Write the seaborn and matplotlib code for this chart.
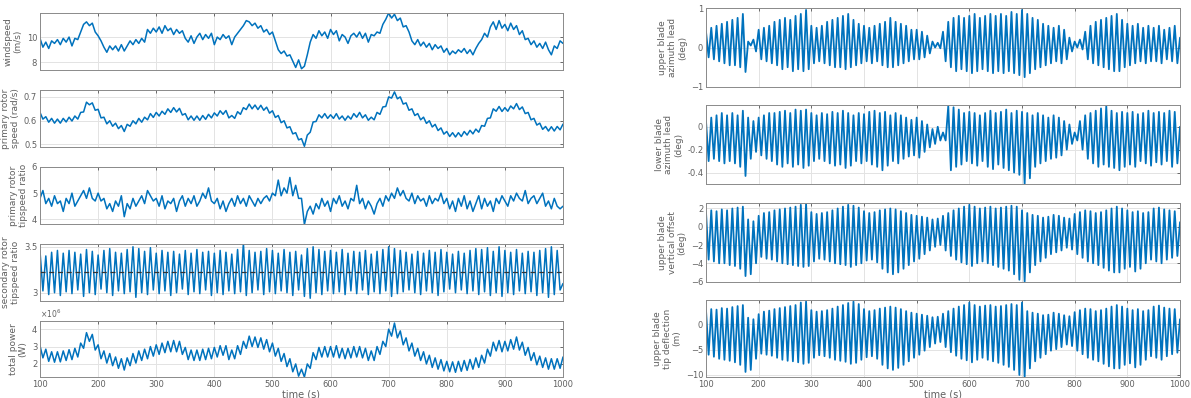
import numpy as np
import pandas as pd
import matplotlib
matplotlib.use("Agg")
import matplotlib.pyplot as plt
import seaborn as sns

# ---------------- data (5 s samples, t = 100 ... 1000 s) ----------------
windspeed = [
    9.9, 9.2, 9.6, 9.1, 9.7, 9.5, 9.8, 9.4, 9.9, 9.6,
    10.0, 9.3, 9.9, 9.8, 10.4, 11.0, 11.2, 10.9, 11.1, 10.4,
    10.1, 9.7, 9.2, 8.8, 9.3, 9.0, 9.3, 8.9, 9.4, 8.9,
    9.3, 9.7, 9.4, 9.8, 9.5, 9.9, 9.6, 10.6, 10.3, 10.7,
    10.4, 10.8, 10.3, 10.9, 10.5, 10.7, 10.2, 10.6, 10.3, 10.5,
    9.9, 9.6, 10.1, 9.5, 10.0, 10.3, 9.8, 10.2, 9.9, 10.3,
    9.4, 10.0, 9.8, 10.2, 9.9, 10.1, 9.4, 10.0, 10.3, 10.6,
    10.9, 11.3, 11.2, 10.9, 11.1, 10.7, 10.9, 10.4, 10.6, 10.2,
    10.4, 9.7, 9.0, 8.7, 8.9, 8.5, 8.6, 8.1, 7.6, 8.2,
    7.5, 7.7, 8.6, 9.6, 10.2, 9.9, 10.5, 10.1, 10.4, 9.9,
    10.6, 10.2, 10.5, 9.7, 10.2, 10.0, 9.5, 10.1, 10.3, 10.0,
    10.4, 9.9, 10.3, 9.6, 10.2, 10.1, 10.4, 10.3, 11.0, 11.4,
    11.9, 11.5, 11.8, 11.3, 11.5, 10.8, 10.9, 10.4, 9.7, 9.4,
    9.8, 9.3, 9.6, 9.2, 9.5, 9.0, 9.4, 9.1, 9.3, 8.8,
    9.1, 8.6, 8.9, 8.7, 9.0, 8.8, 9.1, 8.7, 9.0, 8.6,
    9.1, 9.5, 9.8, 10.3, 10.0, 10.8, 11.2, 10.6, 11.3, 10.7,
    11.0, 10.5, 11.1, 10.6, 10.9, 10.2, 10.5, 9.8, 9.9, 9.4,
    9.7, 9.2, 9.5, 9.1, 9.6, 9.0, 8.6, 9.3, 9.1, 9.7,
    9.5]

rotor_speed = [
    0.634, 0.606, 0.616, 0.593, 0.609, 0.589, 0.606, 0.589, 0.609, 0.594,
    0.614, 0.598, 0.619, 0.606, 0.634, 0.636, 0.677, 0.666, 0.674, 0.643,
    0.647, 0.611, 0.614, 0.586, 0.599, 0.576, 0.589, 0.566, 0.579, 0.554,
    0.584, 0.576, 0.599, 0.586, 0.609, 0.593, 0.614, 0.603, 0.629, 0.613,
    0.634, 0.619, 0.639, 0.626, 0.649, 0.634, 0.654, 0.636, 0.651, 0.623,
    0.629, 0.603, 0.619, 0.601, 0.619, 0.601, 0.621, 0.605, 0.626, 0.611,
    0.632, 0.619, 0.641, 0.626, 0.642, 0.611, 0.621, 0.609, 0.637, 0.626,
    0.654, 0.646, 0.669, 0.649, 0.665, 0.646, 0.664, 0.643, 0.656, 0.631,
    0.641, 0.613, 0.621, 0.591, 0.599, 0.569, 0.574, 0.544, 0.549, 0.519,
    0.524, 0.492, 0.539, 0.551, 0.594, 0.596, 0.624, 0.611, 0.629, 0.609,
    0.624, 0.609, 0.629, 0.606, 0.619, 0.601, 0.619, 0.606, 0.629, 0.614,
    0.634, 0.611, 0.624, 0.601, 0.614, 0.603, 0.634, 0.626, 0.657, 0.659,
    0.699, 0.694, 0.720, 0.691, 0.699, 0.669, 0.674, 0.643, 0.649, 0.621,
    0.629, 0.603, 0.614, 0.588, 0.599, 0.573, 0.584, 0.558, 0.569, 0.543,
    0.554, 0.533, 0.549, 0.531, 0.549, 0.533, 0.554, 0.539, 0.559, 0.544,
    0.564, 0.551, 0.579, 0.576, 0.609, 0.611, 0.649, 0.639, 0.659, 0.638,
    0.654, 0.639, 0.661, 0.649, 0.671, 0.646, 0.657, 0.629, 0.634, 0.603,
    0.609, 0.581, 0.589, 0.563, 0.575, 0.556, 0.574, 0.556, 0.575, 0.561,
    0.585]

primary_tsr = [
    4.8, 5.1, 4.6, 4.8, 4.5, 4.9, 4.6, 4.7, 4.3, 4.8,
    4.6, 5.0, 4.5, 4.7, 4.9, 5.1, 4.8, 5.2, 4.8, 4.7,
    5.0, 4.7, 4.8, 4.4, 4.6, 4.3, 4.7, 4.5, 4.9, 4.1,
    4.6, 4.4, 4.8, 4.5, 4.7, 4.9, 4.6, 5.1, 4.9, 4.7,
    4.8, 4.5, 4.9, 4.4, 4.7, 4.6, 4.8, 4.3, 4.7, 4.9,
    4.5, 4.8, 4.6, 4.9, 4.5, 4.7, 5.0, 4.8, 5.2, 4.7,
    4.6, 4.8, 4.4, 4.7, 4.3, 4.6, 4.8, 4.5, 4.9, 4.6,
    4.8, 4.5, 4.9, 4.7, 4.5, 4.8, 4.6, 4.8, 4.9, 4.7,
    5.0, 4.9, 5.5, 4.9, 5.2, 5.0, 5.6, 4.9, 5.3, 4.8,
    4.8, 3.8, 4.3, 4.5, 4.2, 4.6, 4.4, 4.8, 4.5, 4.7,
    4.3, 4.8, 4.6, 4.9, 4.5, 4.7, 4.4, 4.8, 4.7, 5.3,
    4.6, 4.8, 4.4, 4.7, 4.5, 4.2, 4.6, 4.8, 4.5, 4.9,
    4.7, 5.0, 4.8, 5.2, 4.9, 5.1, 4.8, 4.7, 5.0, 4.6,
    4.9, 4.7, 4.8, 4.5, 4.9, 4.6, 4.8, 4.7, 5.0, 4.6,
    4.8, 4.4, 4.7, 4.3, 4.8, 4.5, 4.9, 4.4, 4.7, 4.3,
    4.6, 4.9, 4.4, 4.8, 4.5, 4.7, 4.3, 4.8, 4.6, 4.9,
    4.7, 4.5, 4.9, 4.7, 5.0, 4.8, 4.7, 5.1, 4.6, 4.8,
    4.9, 4.6, 4.8, 5.0, 4.5, 4.7, 4.4, 4.8, 4.5, 4.4,
    4.5]

secondary_tsr = [
    3.45, 3.02, 3.40, 2.98, 3.44, 3.00, 3.46, 2.97, 3.43, 3.01,
    3.46, 2.99, 3.44, 3.03, 3.42, 2.96, 3.47, 3.00, 3.45, 2.98,
    3.41, 3.04, 3.46, 3.00, 3.48, 2.97, 3.44, 3.02, 3.43, 2.99,
    3.47, 3.01, 3.50, 2.95, 3.48, 3.00, 3.45, 2.98, 3.49, 3.03,
    3.43, 2.99, 3.46, 3.02, 3.44, 2.97, 3.45, 3.00, 3.42, 3.04,
    3.46, 2.98, 3.43, 3.01, 3.47, 2.99, 3.44, 3.03, 3.45, 2.97,
    3.43, 3.00, 3.46, 2.98, 3.44, 3.02, 3.42, 2.99, 3.47, 3.01,
    3.54, 2.97, 3.46, 3.00, 3.44, 3.03, 3.45, 2.98, 3.48, 3.01,
    3.46, 2.99, 3.43, 3.02, 3.47, 3.00, 3.44, 2.97, 3.45, 3.03,
    3.41, 2.96, 3.48, 2.94, 3.50, 3.00, 3.47, 2.98, 3.45, 3.02,
    3.46, 2.99, 3.44, 3.01, 3.47, 2.98, 3.43, 3.02, 3.45, 2.99,
    3.44, 3.03, 3.46, 2.98, 3.42, 3.01, 3.45, 2.99, 3.47, 3.02,
    3.50, 2.96, 3.48, 2.99, 3.46, 3.01, 3.44, 3.03, 3.42, 3.00,
    3.45, 2.98, 3.43, 3.02, 3.46, 3.00, 3.44, 2.97, 3.47, 3.01,
    3.44, 3.04, 3.42, 3.00, 3.45, 3.03, 3.43, 2.99, 3.46, 3.02,
    3.48, 2.98, 3.47, 3.01, 3.49, 2.97, 3.45, 3.00, 3.50, 2.96,
    3.46, 3.00, 3.44, 2.98, 3.47, 3.02, 3.43, 2.99, 3.45, 3.01,
    3.44, 2.97, 3.46, 3.00, 3.48, 2.95, 3.50, 2.98, 3.46, 3.03,
    3.10]
secondary_tsr_ref = 3.23

total_power_mw = [
    3.05, 2.35, 2.85, 2.15, 2.70, 2.10, 2.70, 2.12, 2.75, 2.20,
    2.82, 2.25, 2.90, 2.40, 3.20, 2.90, 3.80, 3.30, 3.70, 2.80,
    3.10, 2.30, 2.75, 2.05, 2.60, 1.90, 2.40, 1.75, 2.30, 1.65,
    2.35, 1.90, 2.60, 2.05, 2.75, 2.20, 2.85, 2.30, 3.00, 2.45,
    3.10, 2.55, 3.20, 2.65, 3.30, 2.70, 3.35, 2.70, 3.30, 2.55,
    2.95, 2.25, 2.80, 2.20, 2.80, 2.20, 2.85, 2.25, 2.90, 2.30,
    2.95, 2.40, 3.05, 2.50, 3.05, 2.25, 2.80, 2.30, 3.05, 2.55,
    3.30, 2.90, 3.60, 3.00, 3.55, 2.95, 3.50, 2.85, 3.40, 2.70,
    3.20, 2.45, 2.90, 2.15, 2.60, 1.85, 2.30, 1.55, 2.00, 1.30,
    1.70, 1.25, 2.00, 1.75, 2.65, 2.25, 2.95, 2.40, 3.00, 2.40,
    3.00, 2.40, 3.05, 2.35, 2.90, 2.30, 2.90, 2.35, 3.00, 2.40,
    3.00, 2.35, 2.90, 2.20, 2.75, 2.20, 3.00, 2.55, 3.30, 3.00,
    4.00, 3.60, 4.35, 3.50, 3.90, 3.10, 3.50, 2.75, 3.20, 2.45,
    2.90, 2.20, 2.70, 2.00, 2.50, 1.80, 2.35, 1.70, 2.25, 1.60,
    2.15, 1.55, 2.12, 1.52, 2.15, 1.58, 2.20, 1.63, 2.26, 1.70,
    2.35, 1.80, 2.50, 2.05, 2.85, 2.45, 3.25, 2.75, 3.35, 2.70,
    3.30, 2.75, 3.40, 2.85, 3.55, 2.80, 3.25, 2.50, 2.95, 2.20,
    2.65, 1.95, 2.45, 1.80, 2.35, 1.70, 2.30, 1.70, 2.30, 1.75,
    2.40]

upper_azimuth_lead = [
    0.40, -0.25, 0.50, -0.30, 0.55, -0.35, 0.60, -0.40, 0.65, -0.45,
    0.70, -0.45, 0.75, -0.50, 0.85, -0.62, 0.15, 0.05, 0.20, -0.10,
    0.45, -0.30, 0.50, -0.35, 0.55, -0.40, 0.65, -0.45, 0.70, -0.55,
    0.75, -0.50, 0.70, -0.60, 0.80, -0.55, 0.85, -0.60, 0.95, -0.55,
    0.55, -0.40, 0.50, -0.35, 0.55, -0.40, 0.65, -0.45, 0.70, -0.50,
    0.75, -0.50, 0.80, -0.55, 0.85, -0.50, 0.70, -0.45, 0.60, -0.40,
    0.55, -0.35, 0.50, -0.40, 0.55, -0.35, 0.60, -0.45, 0.65, -0.50,
    0.75, -0.50, 0.65, -0.45, 0.60, -0.40, 0.55, -0.35, 0.45, -0.30,
    0.45, -0.30, 0.40, -0.25, 0.30, -0.15, 0.15, 0.00, 0.12, -0.02,
    0.40, -0.35, 0.65, -0.50, 0.75, -0.60, 0.80, -0.55, 0.75, -0.60,
    0.80, -0.65, 0.85, -0.60, 0.75, -0.55, 0.80, -0.60, 0.85, -0.65,
    0.80, -0.60, 0.85, -0.65, 0.80, -0.60, 0.90, -0.65, 0.85, -0.70,
    0.95, -0.75, 0.85, -0.65, 0.75, -0.55, 0.70, -0.50, 0.60, -0.45,
    0.55, -0.40, 0.50, -0.35, 0.55, -0.40, 0.45, -0.30, 0.25, -0.10,
    0.15, 0.00, 0.20, -0.05, 0.40, -0.30, 0.55, -0.40, 0.65, -0.45,
    0.70, -0.50, 0.75, -0.55, 0.80, -0.60, 0.85, -0.60, 0.70, -0.50,
    0.60, -0.45, 0.55, -0.40, 0.60, -0.35, 0.50, -0.40, 0.55, -0.35,
    0.50, -0.35, 0.55, -0.40, 0.45, -0.30, 0.50, -0.35, 0.55, -0.40,
    0.25]

lower_azimuth_lead = [
    0.05, -0.30, 0.08, -0.28, 0.10, -0.30, 0.12, -0.32, 0.10, -0.30,
    0.12, -0.32, 0.10, -0.35, 0.14, -0.43, 0.08, -0.28, 0.05, -0.22,
    0.08, -0.25, 0.10, -0.28, 0.12, -0.30, 0.12, -0.33, 0.13, -0.35,
    0.14, -0.32, 0.12, -0.35, 0.15, -0.33, 0.14, -0.36, 0.15, -0.34,
    0.12, -0.30, 0.10, -0.28, 0.12, -0.30, 0.11, -0.32, 0.13, -0.34,
    0.12, -0.33, 0.14, -0.36, 0.12, -0.34, 0.10, -0.30, 0.12, -0.32,
    0.11, -0.30, 0.13, -0.33, 0.14, -0.35, 0.12, -0.38, 0.13, -0.34,
    0.10, -0.30, 0.12, -0.32, 0.10, -0.28, 0.08, -0.26, 0.06, -0.25,
    0.08, -0.27, 0.05, -0.22, 0.02, -0.18, -0.02, -0.15, 0.00, -0.12,
    -0.05, -0.12, 0.18, -0.38, 0.17, -0.35, 0.15, -0.33, 0.12, -0.30,
    0.13, -0.32, 0.12, -0.34, 0.10, -0.30, 0.12, -0.35, 0.14, -0.37,
    0.12, -0.33, 0.13, -0.36, 0.15, -0.38, 0.12, -0.40, 0.14, -0.42,
    0.13, -0.50, 0.12, -0.45, 0.10, -0.35, 0.12, -0.32, 0.10, -0.30,
    0.08, -0.28, 0.10, -0.27, 0.08, -0.25, 0.05, -0.20, 0.02, -0.15,
    -0.05, -0.12, 0.05, -0.20, 0.10, -0.28, 0.12, -0.32, 0.14, -0.35,
    0.16, -0.33, 0.18, -0.35, 0.14, -0.36, 0.12, -0.38, 0.13, -0.35,
    0.12, -0.33, 0.13, -0.35, 0.11, -0.30, 0.12, -0.32, 0.14, -0.34,
    0.12, -0.31, 0.13, -0.33, 0.12, -0.30, 0.14, -0.35, 0.13, -0.32,
    0.00]

upper_vertical_offset = [
    1.6, -3.6, 1.8, -3.8, 1.7, -4.0, 1.9, -4.0, 1.8, -4.2,
    2.0, -4.3, 2.1, -4.6, 2.2, -5.4, 0.8, -5.2, 0.6, -4.0,
    1.2, -3.3, 1.5, -3.5, 1.6, -3.6, 1.8, -3.8, 1.9, -4.0,
    2.0, -4.1, 2.1, -4.2, 2.2, -4.3, 2.4, -4.4, 2.5, -4.3,
    1.6, -3.8, 1.4, -3.5, 1.5, -3.6, 1.6, -3.8, 1.8, -4.0,
    2.0, -4.1, 2.2, -4.2, 2.4, -4.4, 2.3, -4.2, 2.1, -4.0,
    1.7, -3.7, 1.5, -3.6, 1.6, -3.9, 1.8, -4.6, 1.9, -5.0,
    2.0, -5.2, 1.9, -5.0, 1.7, -4.6, 1.5, -4.2, 1.3, -3.8,
    1.2, -3.5, 1.1, -3.0, 1.0, -2.6, 0.8, -2.2, 0.9, -2.0,
    1.2, -2.6, 1.5, -3.2, 1.8, -3.6, 2.0, -3.9, 2.2, -4.1,
    2.4, -4.3, 2.2, -4.0, 2.0, -3.8, 2.1, -4.0, 2.2, -4.2,
    2.0, -4.4, 2.1, -4.6, 2.2, -4.8, 2.3, -5.2, 2.2, -5.8,
    1.8, -6.0, 1.5, -5.0, 1.3, -4.2, 1.2, -3.8, 1.0, -3.4,
    1.1, -3.0, 1.3, -2.8, 1.2, -2.6, 1.0, -2.3, 0.9, -2.5,
    1.4, -3.0, 1.6, -3.4, 1.8, -3.8, 1.7, -4.0, 1.5, -4.2,
    1.6, -4.5, 1.8, -4.8, 2.0, -5.0, 2.2, -5.0, 2.0, -4.6,
    1.8, -4.4, 1.6, -4.9, 1.7, -4.6, 1.5, -4.0, 1.6, -3.6,
    2.0, -3.8, 2.1, -4.0, 1.9, -3.6, 1.8, -3.4, 1.7, -3.2,
    0.5]

upper_tip_deflection = [
    2.8, -6.0, 3.0, -6.4, 2.9, -6.8, 3.2, -7.0, 3.1, -7.2,
    3.4, -7.5, 3.6, -8.0, 3.8, -9.4, 1.3, -9.0, 1.0, -6.8,
    2.0, -5.8, 2.5, -6.0, 2.7, -6.2, 3.0, -6.6, 3.2, -7.0,
    3.4, -7.2, 3.6, -7.3, 3.8, -7.5, 4.3, -7.8, 4.5, -7.6,
    2.8, -6.6, 2.5, -6.1, 2.6, -6.3, 2.8, -6.6, 3.1, -7.0,
    3.5, -7.2, 3.8, -7.4, 4.2, -7.8, 4.5, -7.6, 4.0, -7.0,
    3.0, -6.5, 2.6, -6.3, 2.8, -6.8, 3.1, -8.0, 3.3, -8.7,
    3.5, -9.0, 3.3, -8.6, 3.0, -8.0, 2.6, -7.3, 2.3, -6.6,
    2.1, -6.0, 1.9, -5.2, 1.7, -4.5, 1.4, -3.8, 1.5, -3.5,
    2.1, -4.5, 2.6, -5.5, 3.1, -6.2, 3.5, -6.8, 3.8, -7.1,
    4.3, -7.5, 3.8, -7.0, 3.5, -6.6, 3.7, -7.0, 3.8, -7.3,
    3.5, -7.6, 3.6, -8.0, 3.8, -8.4, 4.0, -9.0, 3.8, -10.0,
    4.3, -10.4, 2.6, -8.7, 2.3, -7.3, 2.1, -6.6, 1.8, -5.9,
    1.9, -5.2, 2.3, -4.9, 2.1, -4.5, 1.8, -4.0, 1.6, -4.3,
    2.4, -5.2, 2.8, -5.9, 3.1, -6.6, 3.0, -7.0, 2.6, -7.3,
    2.8, -7.8, 3.1, -8.3, 3.5, -8.7, 3.8, -8.7, 3.5, -8.0,
    3.1, -7.7, 2.8, -8.5, 3.0, -8.0, 2.6, -7.0, 2.8, -6.3,
    3.5, -6.6, 3.7, -7.0, 3.3, -6.3, 3.1, -5.9, 3.0, -5.6,
    1.0]

t_start, t_end = 100, 1000
x_ticks = [100, 200, 300, 400, 500, 600, 700, 800, 900, 1000]

left_labels = ["windspeed\n(m/s)", "primary rotor\nspeed (rad/s)",
               "primary rotor\ntipspeed ratio", "secondary rotor\ntipspeed ratio",
               "total power\n(W)"]
right_labels = ["upper blade\nazimuth lead\n(deg)", "lower blade\nazimuth lead\n(deg)",
                "upper blade\nvertical offset\n(deg)", "upper blade\ntip deflection\n(m)"]

# ---------------- style ----------------
sns.set_theme(style="white")
plt.rcParams["font.family"] = ["DejaVu Sans"]
LINE = "#0072BD"
GRAY = "#606060"

fig = plt.figure(figsize=(11.91, 3.98), dpi=100)

W, H = 1191.0, 398.0


def add_ax(x0, x1, top, bottom):
    return fig.add_axes([x0 / W, 1 - bottom / H, (x1 - x0) / W, (bottom - top) / H])


def draw(ax, values, ylim, yticks, ylabel, xlabels=False, yticklabels=None, lw=1.1):
    t = np.linspace(t_start, t_end, len(values))
    df = pd.DataFrame({"time": t, "value": values})
    sns.lineplot(data=df, x="time", y="value", ax=ax, color=LINE,
                 linewidth=lw, estimator=None, sort=False)
    ax.set_xlim(t_start, t_end)
    ax.set_ylim(*ylim)
    ax.set_xticks(x_ticks)
    ax.set_yticks(yticks)
    if yticklabels is not None:
        ax.set_yticklabels(yticklabels)
    ax.grid(True, color="#e3e3e3", linewidth=0.7)
    ax.set_axisbelow(True)
    ax.tick_params(direction="in", top=True, right=True, length=2.5,
                   width=0.6, color="#555555", labelsize=6, labelcolor=GRAY, pad=2)
    for s in ax.spines.values():
        s.set_color("#8a8a8a")
        s.set_linewidth(0.7)
    ax.set_ylabel(ylabel, fontsize=6.5, color=GRAY, labelpad=3, linespacing=1.1)
    if xlabels:
        ax.set_xlabel("time (s)", fontsize=7, color=GRAY, labelpad=0.5)
    else:
        ax.set_xticklabels([])
        ax.set_xlabel("")


# left column
lx0, lx1 = 40, 563
ax = add_ax(lx0, lx1, 13, 70)
draw(ax, windspeed, (7.4, 11.9), [8, 10], left_labels[0])

ax = add_ax(lx0, lx1, 90, 147)
draw(ax, rotor_speed, (0.489, 0.728), [0.5, 0.6, 0.7], left_labels[1])

ax = add_ax(lx0, lx1, 167, 224)
draw(ax, primary_tsr, (3.82, 6.0), [4, 5, 6], left_labels[2])

ax = add_ax(lx0, lx1, 244, 301)
draw(ax, secondary_tsr, (2.91, 3.53), [3, 3.5], left_labels[3],
     yticklabels=["3", "3.5"])
ax.axhline(secondary_tsr_ref, color="#333333", linestyle=(0, (4, 3)), linewidth=0.9)

ax = add_ax(lx0, lx1, 321, 377)
draw(ax, total_power_mw, (1.25, 4.47), [2, 3, 4], left_labels[4], xlabels=True)
ax.text(0.0, 1.02, r"$\times10^{6}$", transform=ax.transAxes, fontsize=5.5,
        color=GRAY, ha="left", va="bottom")

# right column
rx0, rx1 = 706, 1180
ax = add_ax(rx0, rx1, 8, 87)
draw(ax, upper_azimuth_lead, (-1, 1), [-1, 0, 1], right_labels[0], lw=1.3)

ax = add_ax(rx0, rx1, 105, 184)
draw(ax, lower_azimuth_lead, (-0.5, 0.19), [-0.4, -0.2, 0], right_labels[1],
     yticklabels=["-0.4", "-0.2", "0"], lw=1.3)

ax = add_ax(rx0, rx1, 203, 282)
draw(ax, upper_vertical_offset, (-6.05, 2.6), [-6, -4, -2, 0, 2], right_labels[2], lw=1.3)

ax = add_ax(rx0, rx1, 300, 377)
draw(ax, upper_tip_deflection, (-10.4, 4.8), [-10, -5, 0], right_labels[3],
     xlabels=True, lw=1.3)

fig.savefig("out.png", dpi=100)
